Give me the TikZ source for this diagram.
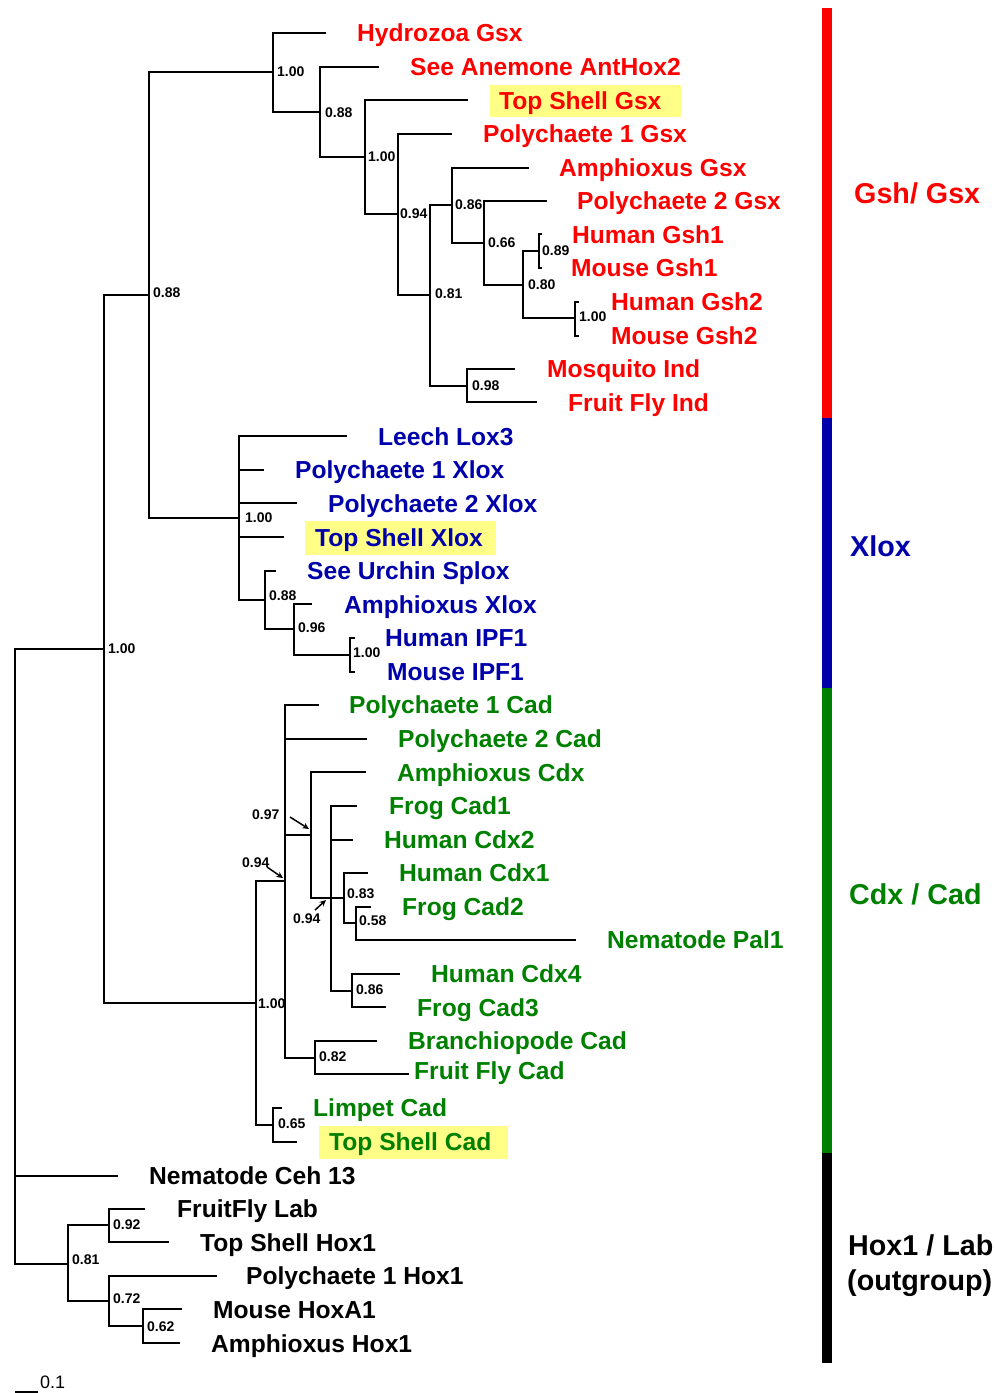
\documentclass[tikz,border=0pt]{standalone}
\usepackage{fontspec}
\setmainfont{Liberation Sans}
\usetikzlibrary{arrows.meta}
\definecolor{gsxred}{RGB}{255,0,0}
\definecolor{xloxblue}{RGB}{0,0,170}
\definecolor{cadgreen}{RGB}{0,128,0}
\definecolor{hilite}{RGB}{255,255,136}

\begin{document}
\begin{tikzpicture}[x=1pt, y=-1pt,
  branch/.style={line width=1.9pt, black},
  taxon/.style={anchor=base west, inner sep=0pt, yshift=-8.8pt, font=\fontsize{24.6}{28}\selectfont\bfseries},
  support/.style={anchor=base west, inner sep=0pt, yshift=-5pt, font=\fontsize{14}{16}\selectfont\bfseries},
  grouplabel/.style={anchor=base west, inner sep=0pt, yshift=-10.3pt, font=\fontsize{28.7}{32}\selectfont\bfseries},
  groupbar/.style={line width=10pt},
  pointer/.style={-{Stealth[length=6.5pt,width=6pt]}, line width=1.5pt}]
\useasboundingbox (0,0) rectangle (994,1393);
\fill[hilite] (490,85) rectangle (681,117);
\fill[hilite] (305,521) rectangle (496,555);
\fill[hilite] (319,1126) rectangle (508,1159);
\coordinate (root) at (15,1176);
\coordinate (n100a) at (104,649);
\coordinate (n088a) at (149,295);
\coordinate (gsx100a) at (273,72);
\coordinate (gsx088) at (320,112);
\coordinate (gsx100b) at (365,157);
\coordinate (gsx094) at (398,214);
\coordinate (gsx081) at (430,295);
\coordinate (gsx086) at (452,205);
\coordinate (gsx066) at (484,243);
\coordinate (gsx080) at (523,285);
\coordinate (gsh1) at (539,251);
\coordinate (gsh2) at (575,318);
\coordinate (ind) at (467,386);
\coordinate (xlox) at (239,518);
\coordinate (xlox088) at (265,600);
\coordinate (xlox096) at (294,629);
\coordinate (ipf) at (350,655);
\coordinate (cad100) at (256,1003);
\coordinate (cad094a) at (285,881);
\coordinate (cad097) at (311,835);
\coordinate (cad094b) at (331,898);
\coordinate (cad083) at (344,898);
\coordinate (cad058) at (356,923);
\coordinate (cad086) at (352,991);
\coordinate (cad082) at (315,1058);
\coordinate (cad065) at (273,1125);
\coordinate (hox081) at (68,1264);
\coordinate (hox092) at (109,1225);
\coordinate (hox072) at (109,1301);
\coordinate (hox062) at (143,1326);
\coordinate (eHydrozoa) at (326,33);
\coordinate (eAnemone) at (379,67);
\coordinate (eTSGsx) at (468,100);
\coordinate (eP1Gsx) at (452,134);
\coordinate (eAmGsx) at (529,168);
\coordinate (eP2Gsx) at (547,201);
\coordinate (eHuGsh1) at (542,234);
\coordinate (eMoGsh1) at (542,268);
\coordinate (eHuGsh2) at (579,302);
\coordinate (eMoGsh2) at (579,336);
\coordinate (eMosq) at (515,369);
\coordinate (eFFInd) at (537,402);
\coordinate (eLeech) at (347,436);
\coordinate (eP1Xlox) at (264,470);
\coordinate (eP2Xlox) at (297,503);
\coordinate (eTSXlox) at (284,537);
\coordinate (eUrchin) at (276,571);
\coordinate (eAmXlox) at (312,604);
\coordinate (eHuIPF) at (355,638);
\coordinate (eMoIPF) at (355,672);
\coordinate (eP1Cad) at (319,705);
\coordinate (eP2Cad) at (367,739);
\coordinate (eAmCdx) at (366,772);
\coordinate (eFrCad1) at (357,806);
\coordinate (eHuCdx2) at (353,840);
\coordinate (eHuCdx1) at (368,873);
\coordinate (eFrCad2) at (371,907);
\coordinate (ePal1) at (576,940);
\coordinate (eHuCdx4) at (400,974);
\coordinate (eFrCad3) at (386,1007);
\coordinate (eBranchio) at (377,1041);
\coordinate (eFFCad) at (409,1074);
\coordinate (eLimpet) at (282,1108);
\coordinate (eTSCad) at (297,1142);
\coordinate (eCeh13) at (118,1176);
\coordinate (eFFLab) at (145,1209);
\coordinate (eTSHox1) at (169,1242);
\coordinate (eP1Hox1) at (217,1276);
\coordinate (eMoHoxA1) at (182,1309);
\coordinate (eAmHox1) at (180,1343);
\draw[branch] (root) |- (n100a);
\draw[branch] (root) |- (eCeh13);
\draw[branch] (root) |- (hox081);
\draw[branch] (n100a) |- (n088a);
\draw[branch] (n100a) |- (cad100);
\draw[branch] (n088a) |- (gsx100a);
\draw[branch] (n088a) |- (xlox);
\draw[branch] (gsx100a) |- (eHydrozoa);
\draw[branch] (gsx100a) |- (gsx088);
\draw[branch] (gsx088) |- (eAnemone);
\draw[branch] (gsx088) |- (gsx100b);
\draw[branch] (gsx100b) |- (eTSGsx);
\draw[branch] (gsx100b) |- (gsx094);
\draw[branch] (gsx094) |- (eP1Gsx);
\draw[branch] (gsx094) |- (gsx081);
\draw[branch] (gsx081) |- (gsx086);
\draw[branch] (gsx081) |- (ind);
\draw[branch] (gsx086) |- (eAmGsx);
\draw[branch] (gsx086) |- (gsx066);
\draw[branch] (gsx066) |- (eP2Gsx);
\draw[branch] (gsx066) |- (gsx080);
\draw[branch] (gsx080) |- (gsh1);
\draw[branch] (gsx080) |- (gsh2);
\draw[branch] (gsh1) |- (eHuGsh1);
\draw[branch] (gsh1) |- (eMoGsh1);
\draw[branch] (gsh2) |- (eHuGsh2);
\draw[branch] (gsh2) |- (eMoGsh2);
\draw[branch] (ind) |- (eMosq);
\draw[branch] (ind) |- (eFFInd);
\draw[branch] (xlox) |- (eLeech);
\draw[branch] (xlox) |- (eP1Xlox);
\draw[branch] (xlox) |- (eP2Xlox);
\draw[branch] (xlox) |- (eTSXlox);
\draw[branch] (xlox) |- (xlox088);
\draw[branch] (xlox088) |- (eUrchin);
\draw[branch] (xlox088) |- (xlox096);
\draw[branch] (xlox096) |- (eAmXlox);
\draw[branch] (xlox096) |- (ipf);
\draw[branch] (ipf) |- (eHuIPF);
\draw[branch] (ipf) |- (eMoIPF);
\draw[branch] (cad100) |- (cad094a);
\draw[branch] (cad100) |- (cad065);
\draw[branch] (cad094a) |- (eP1Cad);
\draw[branch] (cad094a) |- (eP2Cad);
\draw[branch] (cad094a) |- (cad097);
\draw[branch] (cad094a) |- (cad082);
\draw[branch] (cad097) |- (eAmCdx);
\draw[branch] (cad097) |- (cad094b);
\draw[branch] (cad094b) |- (eFrCad1);
\draw[branch] (cad094b) |- (eHuCdx2);
\draw[branch] (cad094b) |- (cad083);
\draw[branch] (cad094b) |- (cad086);
\draw[branch] (cad083) |- (eHuCdx1);
\draw[branch] (cad083) |- (cad058);
\draw[branch] (cad058) |- (eFrCad2);
\draw[branch] (cad058) |- (ePal1);
\draw[branch] (cad086) |- (eHuCdx4);
\draw[branch] (cad086) |- (eFrCad3);
\draw[branch] (cad082) |- (eBranchio);
\draw[branch] (cad082) |- (eFFCad);
\draw[branch] (cad065) |- (eLimpet);
\draw[branch] (cad065) |- (eTSCad);
\draw[branch] (hox081) |- (hox092);
\draw[branch] (hox081) |- (hox072);
\draw[branch] (hox092) |- (eFFLab);
\draw[branch] (hox092) |- (eTSHox1);
\draw[branch] (hox072) |- (eP1Hox1);
\draw[branch] (hox072) |- (hox062);
\draw[branch] (hox062) |- (eMoHoxA1);
\draw[branch] (hox062) |- (eAmHox1);
\node[support] (sgsx100a) at (277,71) {1.00};
\node[support] (sgsx088) at (325,112) {0.88};
\node[support] (sgsx100b) at (368,156) {1.00};
\node[support] (sgsx094) at (400,213) {0.94};
\node[support] (sgsx081) at (435,293) {0.81};
\node[support] (sgsx086) at (455,204) {0.86};
\node[support] (sgsx066) at (488,242) {0.66};
\node[support] (sgsx080) at (528,284) {0.80};
\node[support] (sgsh1) at (542,250) {0.89};
\node[support] (sgsh2) at (579,316) {1.00};
\node[support] (sind) at (472,385) {0.98};
\node[support] (sn088a) at (153,292) {0.88};
\node[support] (sn100a) at (108,648) {1.00};
\node[support] (sxlox) at (245,517) {1.00};
\node[support] (sxlox088) at (269,595) {0.88};
\node[support] (sxlox096) at (298,627) {0.96};
\node[support] (sipf) at (353,652) {1.00};
\node[support] (scad083) at (347,893) {0.83};
\node[support] (scad058) at (359,920) {0.58};
\node[support] (scad086) at (356,989) {0.86};
\node[support] (scad082) at (319,1056) {0.82};
\node[support] (scad100) at (258,1003) {1.00};
\node[support] (scad065) at (278,1123) {0.65};
\node[support] (scad097) at (252,814) {0.97};
\node[support] (scad094a) at (242,862) {0.94};
\node[support] (scad094b) at (293,918) {0.94};
\node[support] (shox081) at (72,1259) {0.81};
\node[support] (shox092) at (113,1224) {0.92};
\node[support] (shox072) at (113,1298) {0.72};
\node[support] (shox062) at (147,1326) {0.62};
\coordinate (p097s) at (290,817);
\coordinate (p097t) at (309,829);
\coordinate (p094as) at (267,867);
\coordinate (p094at) at (283,878);
\coordinate (p094bs) at (315,910);
\coordinate (p094bt) at (326,900);
\draw[pointer] (p097s) -- (p097t);
\draw[pointer] (p094as) -- (p094at);
\draw[pointer] (p094bs) -- (p094bt);
\node[taxon, gsxred] (tHydrozoa) at (357,33) {Hydrozoa Gsx};
\node[taxon, gsxred] (tAnemone) at (410,67) {See Anemone AntHox2};
\node[taxon, gsxred] (tTSGsx) at (499,101) {Top Shell Gsx};
\node[taxon, gsxred] (tP1Gsx) at (483,134) {Polychaete 1 Gsx};
\node[taxon, gsxred] (tAmGsx) at (559,168) {Amphioxus Gsx};
\node[taxon, gsxred] (tP2Gsx) at (577,201) {Polychaete 2 Gsx};
\node[taxon, gsxred] (tHuGsh1) at (572,235) {Human Gsh1};
\node[taxon, gsxred] (tMoGsh1) at (571,268) {Mouse Gsh1};
\node[taxon, gsxred] (tHuGsh2) at (611,302) {Human Gsh2};
\node[taxon, gsxred] (tMoGsh2) at (611,336) {Mouse Gsh2};
\node[taxon, gsxred] (tMosq) at (547,369) {Mosquito Ind};
\node[taxon, gsxred] (tFFInd) at (568,403) {Fruit Fly Ind};
\node[taxon, xloxblue] (tLeech) at (378,437) {Leech Lox3};
\node[taxon, xloxblue] (tP1Xlox) at (295,470) {Polychaete 1 Xlox};
\node[taxon, xloxblue] (tP2Xlox) at (328,504) {Polychaete 2 Xlox};
\node[taxon, xloxblue] (tTSXlox) at (315,538) {Top Shell Xlox};
\node[taxon, xloxblue] (tUrchin) at (307,571) {See Urchin Splox};
\node[taxon, xloxblue] (tAmXlox) at (344,605) {Amphioxus Xlox};
\node[taxon, xloxblue] (tHuIPF) at (385,638) {Human IPF1};
\node[taxon, xloxblue] (tMoIPF) at (387,672) {Mouse IPF1};
\node[taxon, cadgreen] (tP1Cad) at (349,705) {Polychaete 1 Cad};
\node[taxon, cadgreen] (tP2Cad) at (398,739) {Polychaete 2 Cad};
\node[taxon, cadgreen] (tAmCdx) at (397,773) {Amphioxus Cdx};
\node[taxon, cadgreen] (tFrCad1) at (389,806) {Frog Cad1};
\node[taxon, cadgreen] (tHuCdx2) at (384,840) {Human Cdx2};
\node[taxon, cadgreen] (tHuCdx1) at (399,873) {Human Cdx1};
\node[taxon, cadgreen] (tFrCad2) at (402,907) {Frog Cad2};
\node[taxon, cadgreen] (tPal1) at (607,940) {Nematode Pal1};
\node[taxon, cadgreen] (tHuCdx4) at (431,974) {Human Cdx4};
\node[taxon, cadgreen] (tFrCad3) at (417,1008) {Frog Cad3};
\node[taxon, cadgreen] (tBranchio) at (408,1041) {Branchiopode Cad};
\node[taxon, cadgreen] (tFFCad) at (414,1071) {Fruit Fly Cad};
\node[taxon, cadgreen] (tLimpet) at (313,1108) {Limpet Cad};
\node[taxon, cadgreen] (tTSCad) at (329,1142) {Top Shell Cad};
\node[taxon] (tCeh13) at (149,1176) {Nematode Ceh 13};
\node[taxon] (tFFLab) at (177,1209) {FruitFly Lab};
\node[taxon] (tTSHox1) at (200,1243) {Top Shell Hox1};
\node[taxon] (tP1Hox1) at (246,1276) {Polychaete 1 Hox1};
\node[taxon] (tMoHoxA1) at (213,1310) {Mouse HoxA1};
\node[taxon] (tAmHox1) at (211,1344) {Amphioxus Hox1};
\draw[groupbar, gsxred] (827,8) -- (827,418);
\draw[groupbar, xloxblue] (827,418) -- (827,688);
\draw[groupbar, cadgreen] (827,688) -- (827,1153);
\draw[groupbar, black] (827,1153) -- (827,1363);
\node[grouplabel, gsxred] (gGsx) at (854,193) {Gsh/ Gsx};
\node[grouplabel, xloxblue] (gXlox) at (850,546) {Xlox};
\node[grouplabel, cadgreen] (gCad) at (849,894) {Cdx / Cad};
\node[grouplabel] (gHox) at (848,1245) {Hox1 / Lab};
\node[grouplabel] (gOut) at (847,1280) {(outgroup)};
\draw[line width=1.5pt] (15,1392) -- (38,1392);
\node[anchor=base west, inner sep=0pt, yshift=-6.4pt, font=\fontsize{18}{20}\selectfont] (scalebar) at (40,1382) {0.1};
\end{tikzpicture}
\end{document}
